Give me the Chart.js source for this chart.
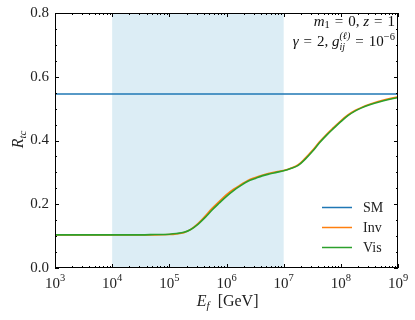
<!DOCTYPE html>
<html>
<head>
<meta charset="utf-8">
<script src="https://cdn.jsdelivr.net/npm/chart.js@4/dist/chart.umd.min.js"></script>
<style>
  html, body { margin: 0; padding: 0; background: #fff; }
  #wrap { width: 415px; height: 320px; }
</style>
</head>
<body>
<div id="wrap"><canvas id="rtcChart" width="415" height="320"></canvas></div>
<script>
// energies E_f in GeV
const energy = [1e3, 1.8e3, 3.2e3, 5.6e3, 1e4, 1.8e4, 3.2e4, 5.6e4,
    1e5, 1.33e5, 1.8e5, 2.37e5, 3.2e5, 4.2e5, 5.6e5, 7.5e5,
    1e6, 1.33e6, 1.8e6, 2.37e6, 3.2e6, 4.2e6, 5.6e6, 7.5e6,
    1e7, 1.33e7, 1.8e7, 2.37e7, 3.2e7, 4.2e7, 5.6e7, 7.5e7,
    1e8, 1.33e8, 1.8e8, 3.2e8, 5.6e8, 1e9];
const rtcInv = [0.104, 0.104, 0.104, 0.104, 0.104, 0.104, 0.104, 0.104,
    0.105, 0.107, 0.111, 0.121, 0.140, 0.162, 0.187, 0.209,
    0.230, 0.247, 0.262, 0.275, 0.284, 0.291, 0.297, 0.302,
    0.306, 0.313, 0.324, 0.344, 0.369, 0.395, 0.419, 0.441,
    0.462, 0.480, 0.495, 0.514, 0.527, 0.537];
const rtcVis = [0.104, 0.104, 0.104, 0.104, 0.104, 0.104, 0.104, 0.105,
    0.106, 0.108, 0.112, 0.121, 0.138, 0.158, 0.182, 0.204,
    0.225, 0.243, 0.259, 0.272, 0.281, 0.289, 0.295, 0.300,
    0.305, 0.312, 0.322, 0.341, 0.366, 0.392, 0.416, 0.438,
    0.459, 0.478, 0.493, 0.512, 0.525, 0.535];
const smEnergy = [1e3, 1e9];
const rtcSM = [0.546, 0.546];
const shadedBand = [1e4, 1e7];

const xTicks = [1e3, 1e4, 1e5, 1e6, 1e7, 1e8, 1e9];
const xTickExp = ['3', '4', '5', '6', '7', '8', '9'];
const yTicks = [0, 0.2, 0.4, 0.6, 0.8];
const yTickLabels = ['0.0', '0.2', '0.4', '0.6', '0.8'];

const seriesNames = ['SM', 'Inv', 'Vis'];
const seriesColors = ['#1f77b4', '#ff7f0e', '#2ca02c'];

const SERIF = '"Liberation Serif", "DejaVu Serif", serif';
const EQ = ' \u200A=\u200A ';

function pts(xs, ys) {
    return xs.map((x, i) => ({ x: x, y: ys[i] }));
}

// draw a list of text pieces, right aligned at xRight
function drawRuns(ctx, runs, xRight, baseY) {
    let total = 0;
    runs.forEach(r => { ctx.font = r.font; r.w = ctx.measureText(r.t).width; total += r.w; });
    let x = xRight - total;
    ctx.textAlign = 'left';
    ctx.textBaseline = 'alphabetic';
    runs.forEach(r => {
        ctx.font = r.font;
        ctx.fillText(r.t, x, baseY + (r.dy || 0));
        x += r.w;
    });
    return xRight - total;
}

const decor = {
    id: 'decor',
    beforeDatasetsDraw(chart) {
        const { ctx, chartArea: a, scales } = chart;
        const x0 = scales.x.getPixelForValue(shadedBand[0]);
        const x1 = scales.x.getPixelForValue(shadedBand[1]);
        ctx.save();
        ctx.fillStyle = '#dcedf5';
        ctx.fillRect(x0, a.top, x1 - x0, a.bottom - a.top);
        ctx.restore();
    },
    afterDatasetsDraw(chart) {
        const { ctx, chartArea: a, scales } = chart;
        const sx = scales.x, sy = scales.y;
        ctx.save();
        ctx.strokeStyle = '#000';
        ctx.lineWidth = 1;
        ctx.strokeRect(a.left + 0.5, a.top + 0.5, a.right - a.left - 1, a.bottom - a.top - 1);

        // ticks, pointing inward on all four sides
        ctx.beginPath();
        for (let e = 3; e <= 9; e++) {
            for (let m = 1; m <= 9; m++) {
                if (e === 9 && m > 1) break;
                const px = Math.round(sx.getPixelForValue(m * Math.pow(10, e))) + 0.5;
                const len = m === 1 ? 4 : 2;
                ctx.moveTo(px, a.bottom); ctx.lineTo(px, a.bottom - len);
                ctx.moveTo(px, a.top); ctx.lineTo(px, a.top + len);
            }
        }
        for (let k = 0; k <= 16; k++) {
            const py = Math.round(sy.getPixelForValue(k * 0.05)) + 0.5;
            const len = k % 4 === 0 ? 4 : 2;
            ctx.moveTo(a.left, py); ctx.lineTo(a.left + len, py);
            ctx.moveTo(a.right, py); ctx.lineTo(a.right - len, py);
        }
        ctx.stroke();

        // tick labels
        ctx.fillStyle = '#222';
        ctx.font = '15px ' + SERIF;
        ctx.textAlign = 'right';
        ctx.textBaseline = 'middle';
        yTicks.forEach((v, i) => ctx.fillText(yTickLabels[i], a.left - 6, sy.getPixelForValue(v)));
        xTicks.forEach((v, i) => {
            const px = sx.getPixelForValue(v);
            ctx.font = '15px ' + SERIF;
            const w10 = ctx.measureText('10').width;
            ctx.font = '10.5px ' + SERIF;
            const we = ctx.measureText(xTickExp[i]).width;
            const left = px - (w10 + we) / 2;
            ctx.textAlign = 'left';
            ctx.textBaseline = 'alphabetic';
            ctx.font = '15px ' + SERIF;
            ctx.fillText('10', left, 288);
            ctx.font = '10.5px ' + SERIF;
            ctx.fillText(xTickExp[i], left + w10, 281);
        });

        // axis titles
        const cx = (a.left + a.right) / 2;
        drawRuns(ctx, [
            { t: 'E', font: 'italic 16px ' + SERIF },
            { t: 'f', font: 'italic 11px ' + SERIF, dy: 3 },
            { t: '  [GeV]', font: '16px ' + SERIF }
        ], cx + 32, 306);

        ctx.save();
        ctx.translate(23, (a.top + a.bottom) / 2);
        ctx.rotate(-Math.PI / 2);
        drawRuns(ctx, [
            { t: 'R', font: 'italic 16px ' + SERIF },
            { t: 'tc', font: 'italic 11px ' + SERIF, dy: 3 }
        ], 10, 0);
        ctx.restore();

        // parameter note, top right
        ctx.fillStyle = '#111';
        drawRuns(ctx, [
            { t: 'm', font: 'italic 15px ' + SERIF },
            { t: '1', font: '10.5px ' + SERIF, dy: 2 },
            { t: EQ + '0, ', font: '15px ' + SERIF },
            { t: 'z', font: 'italic 15px ' + SERIF },
            { t: EQ + '1', font: '15px ' + SERIF }
        ], a.right - 3, 26);
        const gLeft = drawRuns(ctx, [
            { t: 'g', font: 'italic 15px ' + SERIF },
            { t: '(ℓ)', font: 'italic 10px ' + SERIF, dy: -7 },
            { t: EQ + '10', font: '15px ' + SERIF },
            { t: '−6', font: '10.5px ' + SERIF, dy: -6 }
        ], a.right - 3, 46);
        drawRuns(ctx, [
            { t: 'γ', font: 'italic 15px ' + SERIF },
            { t: EQ + '2, ', font: '15px ' + SERIF }
        ], gLeft, 46);
        ctx.font = 'italic 15px ' + SERIF;
        const gW = ctx.measureText('g').width;
        ctx.font = 'italic 10px ' + SERIF;
        ctx.textAlign = 'left';
        ctx.fillText('ij', gLeft + gW, 50);

        // legend
        const legendY = [207.5, 227.5, 247.5];
        ctx.lineWidth = 1.5;
        seriesNames.forEach((name, i) => {
            ctx.strokeStyle = seriesColors[i];
            ctx.beginPath();
            ctx.moveTo(322, legendY[i]);
            ctx.lineTo(352, legendY[i]);
            ctx.stroke();
            ctx.fillStyle = '#222';
            ctx.font = '14px ' + SERIF;
            ctx.textAlign = 'left';
            ctx.textBaseline = 'middle';
            ctx.fillText(name, 363, legendY[i] + 1);
        });
        ctx.restore();
    }
};

const ctx = document.getElementById('rtcChart').getContext('2d');
new Chart(ctx, {
    type: 'scatter',
    data: {
        datasets: [
            { label: 'Inv', data: pts(energy, rtcInv), borderColor: seriesColors[1], order: 3 },
            { label: 'Vis', data: pts(energy, rtcVis), borderColor: seriesColors[2], order: 2 },
            { label: 'SM', data: pts(smEnergy, rtcSM), borderColor: seriesColors[0], order: 1 }
        ].map(d => Object.assign(d, {
            showLine: true,
            pointRadius: 0,
            borderWidth: 1.6,
            fill: false,
            cubicInterpolationMode: 'monotone'
        }))
    },
    options: {
        responsive: false,
        animation: false,
        layout: { padding: { left: 55, right: 17, top: 13, bottom: 52 } },
        plugins: { legend: { display: false }, tooltip: { enabled: false } },
        scales: {
            x: { type: 'logarithmic', min: 1e3, max: 1e9, display: false },
            y: { type: 'linear', min: 0, max: 0.8, display: false }
        }
    },
    plugins: [decor]
});
</script>
</body>
</html>
